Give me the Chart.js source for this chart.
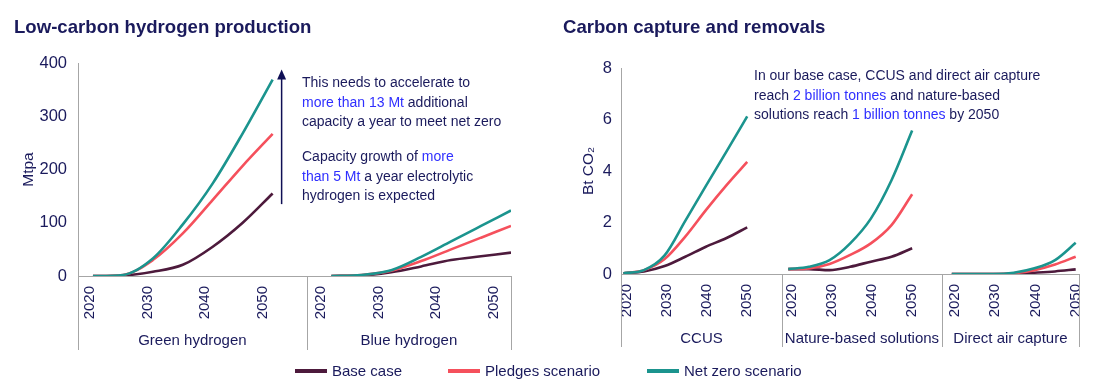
<!DOCTYPE html>
<html>
<head>
<meta charset="utf-8">
<script src="https://cdn.jsdelivr.net/npm/chart.js@4.4.1/dist/chart.umd.min.js"></script>
<style>
  body { margin: 0; background: #fff; font-family: 'Liberation Sans', Arial, sans-serif; color: #1a1a5c; }
  #page { position: relative; width: 1093px; height: 384px; overflow: hidden; }
  canvas { position: absolute; top: 0; }
  .title { position: absolute; top: 16px; margin: 0; font-size: 18.6px; font-weight: bold; color: #1a1a5c; }
  .note { position: absolute; font-size: 14px; line-height: 19.7px; color: #1a1a5c; }
  .note .hi { color: #2f2fff; }
  .legend { position: absolute; top: 362px; font-size: 15px; line-height: 18px; white-space: nowrap; }
  .legend i { display: inline-block; width: 32px; height: 4px; vertical-align: middle; margin-right: 5px; position: relative; top: -1px; }
</style>
</head>
<body>
<div id="page">
  <canvas id="hydrogenChart" width="540" height="384" style="left:0"></canvas>
  <canvas id="captureChart" width="548" height="384" style="left:545px"></canvas>

  <h2 class="title" style="left:14px">Low-carbon hydrogen production</h2>
  <h2 class="title" style="left:563px">Carbon capture and removals</h2>

  <div class="note" style="left:302px; top:73px; width:240px">
    This needs to accelerate to<br><span class="hi">more than 13 Mt</span> additional<br>capacity a year to meet net zero
  </div>
  <div class="note" style="left:302px; top:147px; width:240px">
    Capacity growth of <span class="hi">more</span><br><span class="hi">than 5 Mt</span> a year electrolytic<br>hydrogen is expected
  </div>
  <div class="note" style="left:754px; top:66px; width:320px">
    In our base case, CCUS and direct air capture<br>reach <span class="hi">2 billion tonnes</span> and nature-based<br>solutions reach <span class="hi">1 billion tonnes</span> by 2050
  </div>

  <div class="legend" style="left:295px"><i style="background:#4d1a3c"></i>Base case</div>
  <div class="legend" style="left:448px"><i style="background:#f5505c"></i>Pledges scenario</div>
  <div class="legend" style="left:647px"><i style="background:#1b948e"></i>Net zero scenario</div>
</div>

<script>
// Scenario outlooks

const years = [2020, 2025, 2030, 2035, 2040, 2045, 2050];
const yearLabels = ['2020', '2030', '2040', '2050'];
const scenarios = ['Base case', 'Pledges scenario', 'Net zero scenario'];

// Low-carbon hydrogen production, Mtpa
const hydrogenGroups = ['Green hydrogen', 'Blue hydrogen'];
const greenBase = [0, 1, 8, 21, 55, 100, 155];
const greenPledges = [0, 2, 30, 80, 143, 207, 267];
const greenNetZero = [0, 2, 33, 97, 174, 268, 369];
const blueBase = [0, 1, 7, 18, 30, 37, 44];
const bluePledges = [0, 2, 10, 28, 50, 72, 94];
const blueNetZero = [0, 2, 11, 36, 65, 94, 123];

// Carbon capture and removals, Bt CO2
const captureGroups = ['CCUS', 'Nature-based solutions', 'Direct air capture'];
const ccusBase = [0.03, 0.1, 0.31, 0.67, 1.06, 1.4, 1.81];
const ccusPledges = [0.03, 0.15, 0.58, 1.45, 2.48, 3.45, 4.35];
const ccusNetZero = [0.03, 0.15, 0.72, 2.06, 3.42, 4.76, 6.12];
const natureBase = [0.19, 0.19, 0.15, 0.28, 0.48, 0.67, 1.0];
const naturePledges = [0.19, 0.22, 0.39, 0.74, 1.19, 1.9, 3.1];
const natureNetZero = [0.19, 0.28, 0.54, 1.19, 2.15, 3.64, 5.57];
const dacBase = [0, 0, 0, 0.01, 0.05, 0.1, 0.18];
const dacPledges = [0, 0, 0, 0.03, 0.15, 0.37, 0.67];
const dacNetZero = [0, 0, 0, 0.05, 0.22, 0.54, 1.21];

const colors = ['#4d1a3c', '#f5505c', '#1b948e'];
const textColor = '#1a1a5c';
const axisGray = '#a6a6a6';
const fontFamily = "'Liberation Sans', Arial, sans-serif";

// one x unit = one year; each panel gets its own stretch of the axis
function points(values, start) {
    return values.map((v, i) => ({ x: start + (years[i] - 2020), y: v }));
}

function buildDatasets(seriesByGroup, starts) {
    const out = [];
    seriesByGroup.forEach((groupSeries, g) => {
        groupSeries.forEach((values, s) => {
            out.push({
                label: scenarios[s],
                data: points(values, starts[g]),
                borderColor: colors[s],
                borderWidth: 2.6,
                pointRadius: 0,
                cubicInterpolationMode: 'monotone',
                fill: false,
                order: 3 - s
            });
        });
    });
    return out;
}

// panel separators below the axis and the panel names
const groupPlugin = {
    id: 'groupLabels',
    afterDraw(chart, args, opts) {
        const { ctx, chartArea } = chart;
        const x = chart.scales.x;
        ctx.save();
        ctx.strokeStyle = axisGray;
        ctx.lineWidth = 1;
        opts.bounds.forEach(b => {
            const px = Math.round(x.getPixelForValue(b)) + 0.5;
            ctx.beginPath();
            ctx.moveTo(px, chartArea.bottom);
            ctx.lineTo(px, chartArea.bottom + opts.depth);
            ctx.stroke();
        });
        ctx.fillStyle = textColor;
        ctx.font = '15px ' + fontFamily;
        ctx.textAlign = 'center';
        ctx.textBaseline = 'middle';
        opts.names.forEach((name, i) => {
            const mid = (opts.bounds[i] + opts.bounds[i + 1]) / 2;
            ctx.fillText(name, x.getPixelForValue(mid), chartArea.bottom + 65);
        });
        ctx.restore();
    }
};

const arrowPlugin = {
    id: 'arrow',
    afterDatasetsDraw(chart, args, opts) {
        if (!opts.x) return;
        const { ctx } = chart;
        const px = chart.scales.x.getPixelForValue(opts.x);
        const y0 = chart.scales.y.getPixelForValue(opts.from);
        const y1 = chart.scales.y.getPixelForValue(opts.to);
        ctx.save();
        ctx.strokeStyle = '#0f0f55';
        ctx.fillStyle = '#0f0f55';
        ctx.lineWidth = 1.5;
        ctx.beginPath();
        ctx.moveTo(px, y0);
        ctx.lineTo(px, y1 + 8);
        ctx.stroke();
        ctx.beginPath();
        ctx.moveTo(px, y1);
        ctx.lineTo(px - 4.5, y1 + 10);
        ctx.lineTo(px + 4.5, y1 + 10);
        ctx.closePath();
        ctx.fill();
        ctx.restore();
    }
};

function makeChart(id, cfg) {
    const font = { family: fontFamily, size: 15 };
    const yFont = { family: fontFamily, size: 16.5 };
    return new Chart(document.getElementById(id), {
        type: 'line',
        data: { datasets: cfg.datasets },
        options: {
            responsive: false,
            animation: false,
            layout: { padding: { top: cfg.top, right: cfg.right, left: 0, bottom: 0 } },
            plugins: {
                legend: { display: false },
                tooltip: { enabled: false },
                groupLabels: { bounds: cfg.bounds, names: cfg.names, depth: cfg.depth },
                arrow: cfg.arrow || {}
            },
            scales: {
                x: {
                    type: 'linear',
                    min: 0,
                    max: cfg.xMax,
                    grid: { display: false, drawTicks: false },
                    border: { display: true, color: axisGray, width: 1 },
                    ticks: {
                        autoSkip: false,
                        minRotation: 90,
                        maxRotation: 90,
                        padding: 10,
                        color: textColor,
                        font: font,
                        callback: (v, i) => yearLabels[i % yearLabels.length]
                    },
                    afterBuildTicks: s => { s.ticks = cfg.tickPos.map(v => ({ value: v })); },
                    afterFit: s => {
                        s.height = cfg.xHeight;
                        // labels may hang over the edges; keep the plot width fixed
                        s.paddingLeft = 0;
                        s.paddingRight = 0;
                    }
                },
                y: {
                    min: 0,
                    max: cfg.yMax,
                    grid: { display: false, drawTicks: false },
                    border: { display: true, color: axisGray, width: 1 },
                    ticks: { stepSize: cfg.yStep, padding: cfg.tickPad, color: textColor, font: yFont },
                    title: {
                        display: true,
                        text: cfg.yTitle,
                        color: textColor,
                        font: { family: fontFamily, size: 15.5 },
                        padding: { top: cfg.titlePad, bottom: 0 }
                    },
                    afterFit: s => { s.width = cfg.yWidth; }
                }
            }
        },
        plugins: [groupPlugin, arrowPlugin]
    });
}

// hydrogen panel
const h2Starts = [2.5, 42.3];
makeChart('hydrogenChart', {
    datasets: buildDatasets([
        [greenBase, greenPledges, greenNetZero],
        [blueBase, bluePledges, blueNetZero]
    ], h2Starts),
    xMax: 72.3,
    bounds: [0, 38.2, 72.3],
    names: hydrogenGroups,
    tickPos: [2.0, 11.6, 21.2, 30.8, 40.6, 50.2, 59.8, 69.4],
    yMax: 400, yStep: 100, yTitle: 'Mtpa',
    top: 63, right: 29, xHeight: 108, yWidth: 78, tickPad: 11, titlePad: 19, depth: 74,
    arrow: { x: 34, from: 135, to: 388 }
});

// carbon capture panel
const ccsStarts = [0.56, 40.5, 80.1];
makeChart('captureChart', {
    datasets: buildDatasets([
        [ccusBase, ccusPledges, ccusNetZero],
        [natureBase, naturePledges, natureNetZero],
        [dacBase, dacPledges, dacNetZero]
    ], ccsStarts),
    xMax: 110.9,
    bounds: [0, 39, 77.7, 110.9],
    names: captureGroups,
    tickPos: ccsStarts.flatMap(s => [s + 0.8, s + 10.5, s + 20.3, s + 30]),
    yMax: 8, yStep: 2, yTitle: 'Bt CO\u2082',
    top: 68, right: 14, xHeight: 110, yWidth: 76, tickPad: 9, titlePad: 34, depth: 73
});
</script>
</body>
</html>
